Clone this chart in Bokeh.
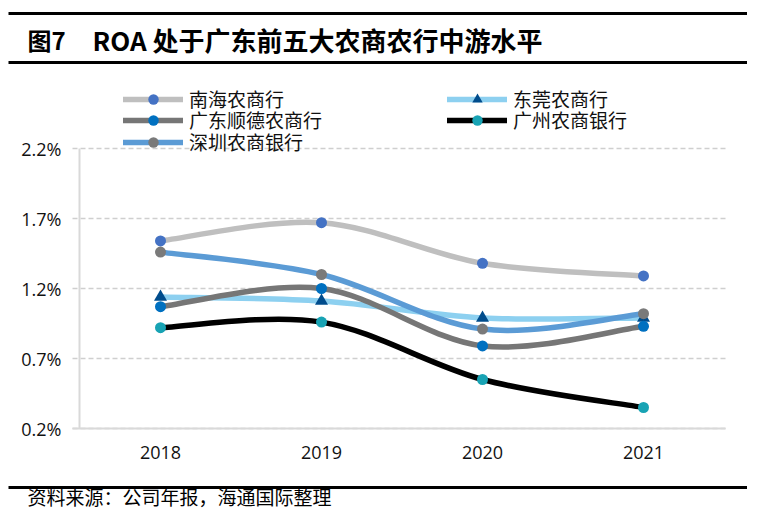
import numpy as np
from bokeh.plotting import figure
from bokeh.models import (FixedTicker, PrintfTickFormatter, Legend, LegendItem,
                          Label, BoxAnnotation, Range1d, Grid)
from bokeh.embed import file_html
from bokeh.resources import INLINE

# ---------------- data ----------------
years = ["2018", "2019", "2020", "2021"]
nanhai = [1.54, 1.67, 1.38, 1.29]      # 南海农商行
dongguan = [1.14, 1.11, 0.99, 0.99]    # 东莞农商行
shunde = [1.07, 1.20, 0.79, 0.93]      # 广东顺德农商行
guangzhou = [0.92, 0.96, 0.55, 0.35]   # 广州农商银行
shenzhen = [1.46, 1.30, 0.91, 1.02]    # 深圳农商银行
y_ticks = [0.2, 0.7, 1.2, 1.7, 2.2]

series = [
    ("南海农商行", nanhai, "#BFBFBF", "#4472C4", "circle", 11),
    ("东莞农商行", dongguan, "#8DD0F0", "#004C8C", "triangle", 13),
    ("广东顺德农商行", shunde, "#767676", "#0070C0", "circle", 11),
    ("广州农商银行", guangzhou, "#000000", "#18A3B4", "circle", 11),
    ("深圳农商银行", shenzhen, "#5B9BD5", "#7A7A7A", "circle", 11),
]

CJK = "Noto Sans CJK SC"
LEG_FONT = "'Liberation Sans', 'Noto Sans CJK SC'"
LAT = "Open Sans"
W, H = 747, 510

# pixel layout of the plot area (canvas coords, y down)
X_FIRST, X_STEP = 160.0, 161.0        # centre of first category, spacing
Y_TOP_PX, PX_PER_UNIT = 148.0, 140.0  # pixel of top tick, pixels per 1.0 %
x_lo = -X_FIRST / X_STEP
x_hi = (W - X_FIRST) / X_STEP
y_top = y_ticks[-1]
y_hi = y_top + Y_TOP_PX / PX_PER_UNIT
y_lo = y_top - (H - Y_TOP_PX) / PX_PER_UNIT
axis_x = (79 - X_FIRST) / X_STEP

p = figure(width=W, height=H, output_backend="svg", toolbar_location=None,
           title=None, x_range=Range1d(x_lo, x_hi), y_range=Range1d(y_lo, y_hi),
           min_border_left=0, min_border_right=0, min_border_top=0,
           min_border_bottom=0)
p.outline_line_color = None
p.background_fill_color = "white"
p.border_fill_color = "white"

# axes at fixed positions
p.xaxis.ticker = FixedTicker(ticks=list(range(len(years))))
p.xaxis.major_label_overrides = {i: y for i, y in enumerate(years)}
p.xaxis.fixed_location = y_ticks[0]
p.xaxis.bounds = ((72 - X_FIRST) / X_STEP, (725 - X_FIRST) / X_STEP)
p.yaxis.ticker = FixedTicker(ticks=y_ticks)
p.yaxis.formatter = PrintfTickFormatter(format="%.1f%%")
p.yaxis.fixed_location = axis_x
p.yaxis.bounds = (y_ticks[0], y_ticks[-1])
for ax in (p.xaxis, p.yaxis):
    ax.axis_line_color = "#D9D9D9"
    ax.axis_line_width = 2
    ax.major_tick_line_color = None
    ax.minor_tick_line_color = None
    ax.major_label_text_font = LAT
    ax.major_label_text_font_size = "18px"
    ax.major_label_text_color = "#111111"
p.yaxis.major_label_standoff = 12
p.xaxis.major_label_standoff = 11

p.xgrid.grid_line_color = None
grid_x_bounds = ((72 - X_FIRST) / X_STEP, (725 - X_FIRST) / X_STEP)
if "cross_bounds" in Grid.properties():
    yg = p.ygrid[0]
    yg.bounds = (y_ticks[0], y_ticks[-1])
    yg.cross_bounds = grid_x_bounds
    yg.grid_line_color = "#CFCFCF"
    yg.grid_line_width = 1.5
    yg.grid_line_dash = "5 3"
else:
    p.ygrid.grid_line_color = None
    gt = y_ticks[1:]
    p.segment(x0=[grid_x_bounds[0]] * len(gt), x1=[grid_x_bounds[1]] * len(gt),
              y0=gt, y1=gt, line_color="#CFCFCF", line_width=1.5, line_dash="5 3")

# smooth lines (Bezier segments through the data points) + markers
items = {}
for name, vals, lc, mc, mk, ms in series:
    x = np.arange(len(vals), dtype=float)
    y = np.array(vals, dtype=float)
    n = len(y)
    x0, y0, x1, y1, cx0, cy0, cx1, cy1 = [], [], [], [], [], [], [], []
    for i in range(n - 1):
        pm = max(i - 1, 0)
        pp = min(i + 2, n - 1)
        x0.append(x[i]); y0.append(y[i]); x1.append(x[i + 1]); y1.append(y[i + 1])
        cx0.append(x[i] + (x[i + 1] - x[pm]) / 6.0)
        cy0.append(y[i] + (y[i + 1] - y[pm]) / 6.0)
        cx1.append(x[i + 1] - (x[pp] - x[i]) / 6.0)
        cy1.append(y[i + 1] - (y[pp] - y[i]) / 6.0)
    br = p.bezier(x0=x0, y0=y0, x1=x1, y1=y1, cx0=cx0, cy0=cy0, cx1=cx1, cy1=cy1,
                  line_color=lc, line_width=5.5, line_cap="round")
    sr = p.scatter(x=x, y=y, marker=mk, size=ms, fill_color=mc, line_color=None)
    items[name] = LegendItem(label=name, renderers=[br, sr])

# one legend per entry, placed like the reference (x, centre-y in canvas px)
LEG_H = 26
legend_pos = {
    "南海农商行": (123, 99),
    "广东顺德农商行": (123, 120),
    "深圳农商银行": (123, 142),
    "东莞农商行": (447, 99),
    "广州农商银行": (447, 120),
}
for name, (lx, cy) in legend_pos.items():
    p.add_layout(Legend(items=[items[name]], location=(lx, H - (cy + LEG_H / 2)),
                        orientation="vertical", padding=0, margin=0, spacing=0,
                        glyph_width=60, glyph_height=LEG_H, label_height=LEG_H,
                        label_standoff=6, label_text_font=LEG_FONT,
                        label_text_font_size="19px", label_text_color="#111111",
                        background_fill_alpha=0, border_line_color=None))

# header / footer rules (screen units, measured from bottom-left, y up)
for yc in (13, 62, 487):
    p.add_layout(BoxAnnotation(left=8, right=W, top=H - yc + 1.4, bottom=H - yc - 1.4,
                               left_units="screen", right_units="screen",
                               top_units="screen", bottom_units="screen",
                               fill_color="black", fill_alpha=1, line_color=None))

p.add_layout(Label(x=27, y=H - 39, x_units="screen", y_units="screen",
                   text="图7", text_font=CJK, text_font_style="bold",
                   text_font_size="24px", text_baseline="middle",
                   text_color="black"))
p.add_layout(Label(x=92, y=H - 39, x_units="screen", y_units="screen",
                   text="ROA 处于广东前五大农商农行中游水平", text_font=CJK,
                   text_font_style="bold", text_font_size="26px",
                   text_baseline="middle", text_color="black"))
p.add_layout(Label(x=27, y=H - 496, x_units="screen", y_units="screen",
                   text="资料来源：公司年报，海通国际整理", text_font=CJK,
                   text_font_size="19px", text_baseline="middle",
                   text_color="black"))

open("out.html", "w").write(file_html(p, INLINE))
